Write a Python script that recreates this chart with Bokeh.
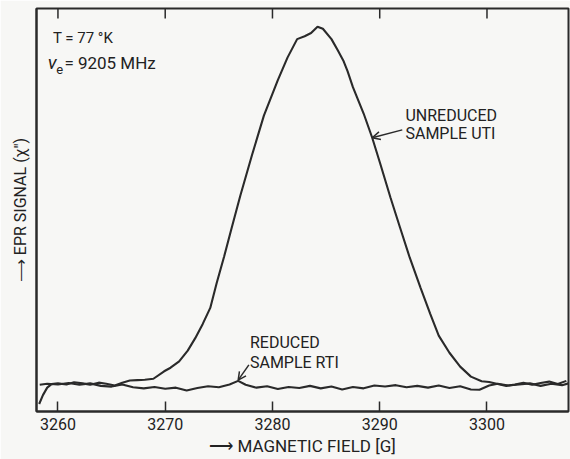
from bokeh.plotting import figure
from bokeh.models import Range1d, FixedTicker, Label, Arrow, OpenHead
from bokeh.embed import file_html
from bokeh.resources import INLINE

# ---- data ----
field_unreduced = [3258.25, 3258.6, 3259.0, 3259.4, 3260.0, 3260.8, 3261.5, 3262.3, 3263.0,
                   3263.8, 3264.5, 3265.3, 3266.0, 3266.7, 3267.4, 3268.1, 3268.9, 3269.9,
                   3270.5, 3271.3, 3272.1, 3272.8, 3273.5, 3274.2, 3274.8, 3275.5, 3276.2,
                   3277.0, 3278.1, 3279.2, 3280.5, 3281.4, 3282.3, 3283.0, 3283.6, 3284.2,
                   3284.7, 3285.5, 3286.1, 3286.6, 3287.0, 3287.5, 3288.5, 3289.3, 3290.05,
                   3291.0, 3291.9, 3292.8, 3293.8, 3294.7, 3295.5, 3296.5, 3297.5, 3298.5,
                   3299.5, 3300.2, 3301.0, 3301.8, 3302.6, 3303.4, 3304.2, 3305.0, 3305.8,
                   3306.6, 3307.4]
signal_unreduced = [-6.0, -3.5, -1.4, -0.4, -0.2, -0.5, 0.1, -0.2, -0.6,
                    0.0, -0.3, -0.8, 0.0, 0.6, 0.7, 0.8, 1.1, 3.2,
                    4.2, 6.0, 9.0, 12.5, 16.5, 21.0, 28.0, 35.5, 43.5,
                    52.5, 64.0, 75.0, 85.0, 91.3, 96.5, 97.3, 98.2, 100.0,
                    99.4, 96.5, 93.3, 90.5, 87.5, 83.0, 75.6, 68.8, 61.5,
                    52.0, 43.5, 35.1, 26.7, 19.4, 13.2, 8.4, 4.5, 1.7,
                    0.4, 0.2, -0.4, -0.9, -0.5, 0.0, -0.6, -0.1, 0.3,
                    -0.4, 0.5]

field_reduced = [3258.3, 3259, 3260, 3261, 3262, 3263, 3264, 3265, 3266, 3267, 3268, 3269,
                 3270, 3271, 3272, 3273, 3274, 3275, 3276, 3276.8, 3277.5, 3278.5, 3279.5,
                 3280.5, 3281.5, 3282.5, 3283.5, 3284.5, 3285.5, 3286.5, 3287.5, 3288.5,
                 3289.5, 3290.5, 3291.5, 3292.5, 3293.5, 3294.5, 3295.5, 3296.5, 3297.5,
                 3298.5, 3299.3, 3300.2, 3301, 3302, 3303, 3304, 3305, 3306, 3307, 3307.6]
signal_reduced = [-0.6, -0.3, -0.5, -0.1, -0.6, -0.2, -0.9, -1.1, -0.5, -1.3, -1.6, -1.2,
                  -1.7, -1.4, -2.2, -1.5, -1.0, -1.3, -0.5, 0.5, -0.6, -1.4, -1.0,
                  -1.8, -1.2, -1.5, -0.9, -1.6, -1.1, -1.9, -1.2, -1.6,
                  -0.8, -1.1, -0.7, -1.3, -0.9, -1.4, -0.8, -1.5, -1.0,
                  -1.9, -2.0, -0.8, -0.3, -0.8, -0.5, -0.2, -0.9, -0.3, -0.7, -0.2]

field_ticks = [3260, 3270, 3280, 3290, 3300]

X_MIN, X_MAX = 3258.0, 3307.6
Y_MIN, Y_MAX = -8.1, 105.1

INK = "#2a2a2a"
TXT = "#222222"
BG = "#f7f7f5"
FONT = "Roboto"

p = figure(width=570, height=459, output_backend="svg", toolbar_location=None,
           x_range=Range1d(X_MIN, X_MAX), y_range=Range1d(Y_MIN, Y_MAX),
           min_border_left=36, min_border_right=2, min_border_top=8, min_border_bottom=48,
           background_fill_color=BG, border_fill_color=BG)
p.grid.visible = False
p.outline_line_color = INK
p.outline_line_width = 2

# bottom axis
xa = p.xaxis[0]
xa.ticker = FixedTicker(ticks=field_ticks)
xa.major_tick_in = 10
xa.major_tick_out = 0
xa.minor_tick_in = 0
xa.minor_tick_out = 0
xa.axis_line_color = INK
xa.axis_line_width = 2
xa.major_tick_line_color = INK
xa.major_tick_line_width = 1.5
xa.major_label_text_font = FONT
xa.major_label_text_font_size = "16px"
xa.major_label_text_color = TXT
xa.major_label_standoff = 6
xa.axis_label = "\u27f6 MAGNETIC FIELD [G]"
xa.axis_label_text_font = FONT
xa.axis_label_text_font_size = "17px"
xa.axis_label_text_font_style = "normal"
xa.axis_label_text_color = TXT
xa.axis_label_standoff = 3

# left axis: line and title only
ya = p.yaxis[0]
ya.ticker = FixedTicker(ticks=[])
ya.axis_line_color = INK
ya.axis_line_width = 2
ya.major_tick_line_color = None
ya.minor_tick_line_color = None
ya.axis_label = "\u27f6 EPR SIGNAL (\u03c7\u2033)"
ya.axis_label_text_font = FONT
ya.axis_label_text_font_size = "16px"
ya.axis_label_text_font_style = "normal"
ya.axis_label_text_color = TXT
ya.axis_label_standoff = 7

# inward ticks on the top edge, at the same fields as the bottom ones
tick_len = 10 / 3.56
p.segment(x0=field_ticks, y0=[Y_MAX] * len(field_ticks), x1=field_ticks,
          y1=[Y_MAX - tick_len] * len(field_ticks), line_color=INK, line_width=1.5)

# curves
p.line(field_unreduced, signal_unreduced, line_color=INK, line_width=2.1)
p.line(field_reduced, signal_reduced, line_color=INK, line_width=2.1)

def lab(x, y, t, size, **kw):
    p.add_layout(Label(x=x, y=y, text=t, text_font=FONT, text_font_size=size,
                       text_color=TXT, text_baseline="alphabetic", **kw))

# condition text
lab(3259.53, 96.9, "T = 77 \u00b0K", "15px")
lab(3259.05, 90.0, "\u03bd", "19px", text_font_style="italic")
lab(3259.85, 88.0, "e", "13px")
lab(3260.6, 89.8, "= 9205 MHz", "17px")

# curve labels
lab(3292.4, 75.0, "UNREDUCED", "16px")
lab(3292.4, 69.9, "SAMPLE UTI", "16px")
lab(3277.9, 11.2, "REDUCED", "16px")
lab(3277.9, 5.6, "SAMPLE RTI", "16px")

p.add_layout(Arrow(x_start=3292.1, y_start=71.0, x_end=3289.3, y_end=68.8,
                   line_color=INK, line_width=1.5,
                   end=OpenHead(size=8, line_color=INK, line_width=1.5)))
p.add_layout(Arrow(x_start=3277.8, y_start=5.0, x_end=3276.8, y_end=0.7,
                   line_color=INK, line_width=1.5,
                   end=OpenHead(size=8, line_color=INK, line_width=1.5)))

open("out.html", "w").write(file_html(p, INLINE))
